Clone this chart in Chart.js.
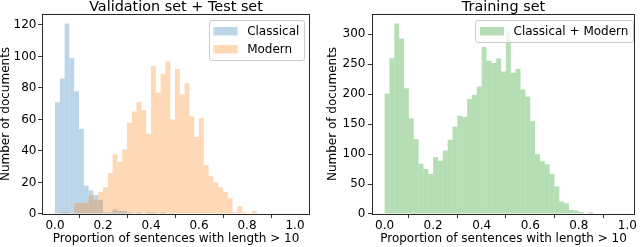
<!DOCTYPE html>
<html><head><meta charset="utf-8">
<script src="https://cdn.jsdelivr.net/npm/chart.js@4.4.1/dist/chart.umd.min.js"></script>
<style>
html,body{margin:0;padding:0;background:#fff;width:640px;height:247px;overflow:hidden}
canvas{position:absolute;top:0}
</style></head><body>
<canvas id="c1" width="320" height="247" style="left:0"></canvas>
<canvas id="c2" width="320" height="247" style="left:320px"></canvas>
<script>
// ---- data (histogram counts, bins of width 0.02 starting at 0.0) ----
const binWidth = 0.02;
const classicalCounts = [71, 86, 121, 99, 78, 54, 18, 15, 12, 9,
                         1, 1, 3, 2, 2, 1, 0, 1, 0, 1,
                         1, 0, 1, 0, 0, 0, 0, 0, 0, 0,
                         0, 0, 0, 0, 0, 0, 0, 0, 0, 0,
                         0, 0, 0, 0, 0, 0, 0, 0, 0, 0];
const modernCounts = [0, 1, 1, 0, 7, 7, 7, 12, 9, 14,
                      17, 26, 38, 33, 41, 58, 65, 71, 66, 51,
                      94, 77, 89, 97, 60, 92, 76, 83, 62, 49,
                      61, 31, 24, 20, 17, 14, 10, 1, 5, 1,
                      0, 2, 0, 0, 0, 0, 0, 0, 0, 0];
const trainingCounts = [201, 260, 318, 293, 210, 160, 125, 84, 75, 67,
                        95, 89, 106, 124, 146, 164, 162, 192, 199, 213,
                        279, 256, 252, 260, 238, 305, 236, 242, 208, 196,
                        155, 100, 88, 83, 67, 46, 21, 18, 7, 6,
                        3, 1, 3, 0, 0, 0, 0, 0, 0, 0];
const xTickValues = [0, 0.2, 0.4, 0.6, 0.8, 1.0];
const xTickLabels = ['0.0', '0.2', '0.4', '0.6', '0.8', '1.0'];
const leftYTicks = [0, 20, 40, 60, 80, 100, 120];
const rightYTicks = [0, 50, 100, 150, 200, 250, 300];
const leftTitle = 'Validation set + Test set';
const rightTitle = 'Training set';
const xLabel = 'Proportion of sentences with length > 10';
const yLabel = 'Number of documents';
const labelClassical = 'Classical';
const labelModern = 'Modern';
const labelTraining = 'Classical + Modern';

// ---- styling ----
const FS = 12;
const FONT = "'DejaVu Sans', sans-serif";
Chart.defaults.color = '#000';
Chart.defaults.font.family = FONT;

function toPoints(counts) {
  return counts.map((c, i) => ({ x: (i + 0.5) * binWidth, y: c }));
}

const framePlugin = {
  id: 'frame',
  afterDraw(chart) {
    const { ctx, chartArea: a } = chart;
    ctx.save();
    ctx.strokeStyle = '#111';
    ctx.lineWidth = 0.9;
    ctx.strokeRect(Math.round(a.left) + 0.5, Math.round(a.top) + 0.5,
      Math.round(a.right) - Math.round(a.left) - 1, Math.round(a.bottom) - Math.round(a.top));
    ctx.restore();
  }
};

const boxLegendPlugin = {
  id: 'boxLegend',
  afterDraw(chart, args, opts) {
    const { ctx, chartArea: a } = chart;
    const ds = chart.data.datasets;
    ctx.save();
    ctx.font = `${FS}px ${FONT}`;
    const tw = Math.max(...ds.map(d => ctx.measureText(d.label).width));
    const pad = 0.4 * FS, hl = 2 * FS, htp = 0.8 * FS, gap = 0.5 * FS, rowH = 12;
    const w = 2 * pad + hl + htp + tw;
    const h = 2 * pad + ds.length * rowH + (ds.length - 1) * gap;
    const x = a.right - opts.rightGap - w, y = a.top + opts.topGap;
    ctx.beginPath();
    ctx.roundRect(Math.round(x) + 0.5, Math.round(y) + 0.5, Math.round(w), Math.round(h), 2.5);
    ctx.fillStyle = 'rgba(255,255,255,0.8)';
    ctx.fill();
    ctx.strokeStyle = '#cccccc';
    ctx.lineWidth = 1;
    ctx.stroke();
    ds.forEach((d, i) => {
      const cy = y + pad + rowH / 2 + i * (rowH + gap);
      ctx.fillStyle = d.backgroundColor;
      ctx.fillRect(x + pad, cy - 0.35 * FS, hl, 0.7 * FS);
      ctx.fillStyle = '#000';
      ctx.textBaseline = 'middle';
      ctx.textAlign = 'left';
      ctx.fillText(d.label, x + pad + hl + htp, cy + 0.5);
    });
    ctx.restore();
  }
};

function barDs(label, counts, color, order) {
  return {
    label, data: toPoints(counts), backgroundColor: color,
    borderWidth: 0, barPercentage: 1, categoryPercentage: 1,
    grouped: false, inflateAmount: 0, order
  };
}

function makeOptions(cfg) {
  return {
    responsive: false, animation: false,
    layout: { padding: { left: 0, right: cfg.padRight, top: 0, bottom: 0 } },
    plugins: {
      legend: { display: false }, tooltip: { enabled: false },
      title: { display: true, fullSize: false, text: cfg.title, color: '#000',
        font: { size: 14.4, family: FONT, weight: 'normal', lineHeight: 0.97 },
        padding: { top: 0, bottom: 0 } },
      boxLegend: { rightGap: cfg.legRight, topGap: cfg.legTop }
    },
    scales: {
      x: {
        type: 'linear', min: cfg.xmin, max: cfg.xmax, offset: false,
        afterBuildTicks: s => { s.ticks = xTickValues.map(v => ({ value: v })); },
        afterFit: s => { s.height = 33; },
        grid: { display: true, drawOnChartArea: false, drawTicks: true, tickLength: 4, tickColor: '#000', tickWidth: 0.8 },
        border: { display: false },
        ticks: { callback: (v, i) => xTickLabels[i], font: { size: FS, family: FONT }, color: '#000', padding: 1, maxRotation: 0, autoSkip: false },
        title: { display: true, text: xLabel, color: '#000', font: { size: FS, family: FONT, lineHeight: 1.2 }, padding: { top: 0, bottom: 1 } }
      },
      y: {
        min: 0, max: cfg.ymax,
        afterBuildTicks: s => { s.ticks = cfg.yTicks.map(v => ({ value: v })); },
        afterFit: s => { s.width = cfg.yWidth; },
        grid: { display: true, drawOnChartArea: false, drawTicks: true, tickLength: 4, tickColor: '#000', tickWidth: 0.8 },
        border: { display: false },
        ticks: { callback: (v, i) => String(cfg.yTicks[i]), font: { size: FS, family: FONT }, color: '#000', padding: cfg.yTickPad, autoSkip: false },
        title: { display: true, text: yLabel, color: '#000', font: { size: FS, family: FONT, lineHeight: 1 }, padding: { top: cfg.yTitlePad, bottom: 0 } }
      }
    }
  };
}

new Chart(document.getElementById('c1'), {
  type: 'bar',
  data: { datasets: [
    barDs(labelClassical, classicalCounts, 'rgba(31,119,180,0.3)', 2),
    barDs(labelModern, modernCounts, 'rgba(255,127,14,0.3)', 1)
  ] },
  options: makeOptions({ title: leftTitle, padRight: 10, xmin: -0.0542, xmax: 1.0625, ymax: 127,
    yTicks: leftYTicks, yWidth: 42, yTickPad: 1.5, yTitlePad: 0, legRight: 5.85, legTop: 6.5 }),
  plugins: [framePlugin, boxLegendPlugin]
});

new Chart(document.getElementById('c2'), {
  type: 'bar',
  data: { datasets: [
    barDs(labelTraining, trainingCounts, 'rgba(44,160,44,0.35)', 1)
  ] },
  options: makeOptions({ title: rightTitle, padRight: 5, xmin: -0.0519, xmax: 1.0317, ymax: 334,
    yTicks: rightYTicks, yWidth: 52, yTickPad: 2.5, yTitlePad: 7, legRight: 1.8, legTop: 6.5 }),
  plugins: [framePlugin, boxLegendPlugin]
});
</script>
</body></html>
